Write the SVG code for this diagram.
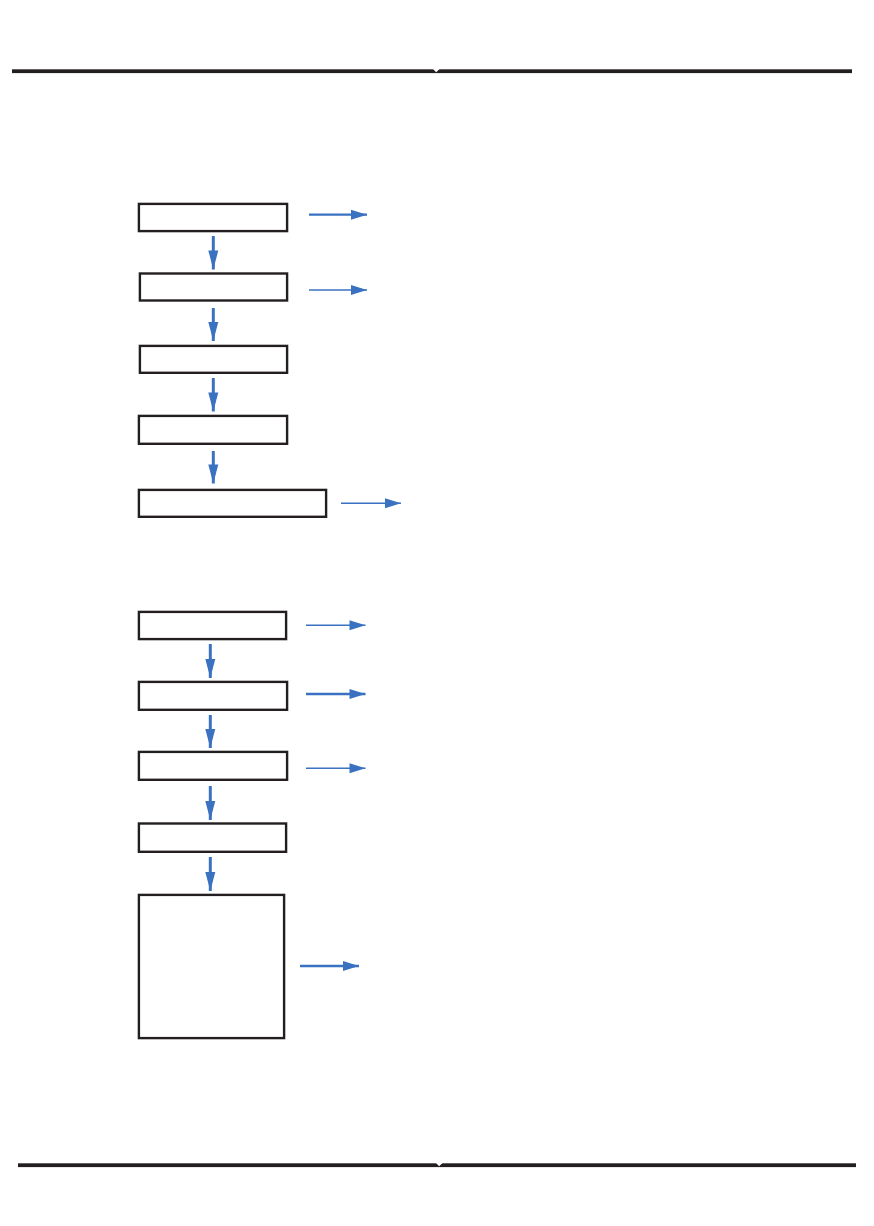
<svg xmlns="http://www.w3.org/2000/svg" width="874" height="1226" viewBox="0 0 874 1226">
<style>
.box{fill:#fff;stroke:#231f20;stroke-width:2.4}
.bar{fill:#231f20}
.notch{fill:#fff}
.down{stroke:#3a72c1;stroke-width:3;fill:none;marker-end:url(#headV)}
.side{stroke:#3a72c1;stroke-width:2.3;fill:none;marker-end:url(#headH)}
.side.thin{stroke-width:1.4}
</style>
<defs>
<marker id="headV" markerUnits="userSpaceOnUse" markerWidth="21" markerHeight="11" refX="19" refY="5" orient="auto" overflow="visible">
<path d="M0,0 L19,5 L0,10 z" fill="#3a72c1"/>
</marker>
<marker id="headH" markerUnits="userSpaceOnUse" markerWidth="18" markerHeight="11" refX="16" refY="5" orient="auto" overflow="visible">
<path d="M0,0 L16,5 L0,10 z" fill="#3a72c1"/>
</marker>
</defs>
<rect width="874" height="1226" fill="#fff"/>
<g id="top-rule">
<rect class="bar" x="12" y="69.3" width="840" height="3.8"/>
<polygon class="notch" points="432.5,68.5 440,68.5 436.2,72.3"/>
</g>
<g id="bottom-rule">
<rect class="bar" x="18" y="1163.3" width="838" height="3.8"/>
<polygon class="notch" points="435.5,1162.5 443,1162.5 439.2,1166.3"/>
</g>
<g id="n1"><rect class="box" x="138.9" y="203.9" width="148.2" height="27.2"/></g>
<g id="n2"><rect class="box" x="139.9" y="273.5" width="147.2" height="27"/></g>
<g id="n3"><rect class="box" x="139.9" y="345.9" width="147.2" height="26.9"/></g>
<g id="n4"><rect class="box" x="138.9" y="415.9" width="148.2" height="27.9"/></g>
<g id="n5"><rect class="box" x="138.9" y="489.9" width="187.2" height="26.9"/></g>
<g id="n6"><rect class="box" x="138.9" y="611.9" width="147.2" height="27.2"/></g>
<g id="n7"><rect class="box" x="138.9" y="681.9" width="148.2" height="27.9"/></g>
<g id="n8"><rect class="box" x="138.9" y="751.9" width="148.2" height="27.9"/></g>
<g id="n9"><rect class="box" x="138.9" y="823.5" width="147.2" height="28.3"/></g>
<g id="n10"><rect class="box" x="138.9" y="894.9" width="145.2" height="143.2"/></g>
<g id="connectors">
<line class="down" x1="213.3" y1="236" x2="213.3" y2="269.5"/>
<line class="down" x1="213.3" y1="308" x2="213.3" y2="341"/>
<line class="down" x1="213.3" y1="378" x2="213.3" y2="411.5"/>
<line class="down" x1="213.3" y1="451" x2="213.3" y2="483.5"/>
<line class="down" x1="210.3" y1="644" x2="210.3" y2="678"/>
<line class="down" x1="210.3" y1="715" x2="210.3" y2="748"/>
<line class="down" x1="210.3" y1="786" x2="210.3" y2="820"/>
<line class="down" x1="210.3" y1="857" x2="210.3" y2="891"/>
<line class="side" x1="309" y1="214.7" x2="367" y2="214.7"/>
<line class="side thin" x1="309" y1="290" x2="367" y2="290"/>
<line class="side thin" x1="341" y1="503.3" x2="401" y2="503.3"/>
<line class="side thin" x1="306" y1="625.3" x2="365.5" y2="625.3"/>
<line class="side" x1="306" y1="694" x2="365.5" y2="694"/>
<line class="side thin" x1="306" y1="768.3" x2="365.5" y2="768.3"/>
<line class="side" x1="300" y1="966" x2="359" y2="966"/>
</g>
</svg>
